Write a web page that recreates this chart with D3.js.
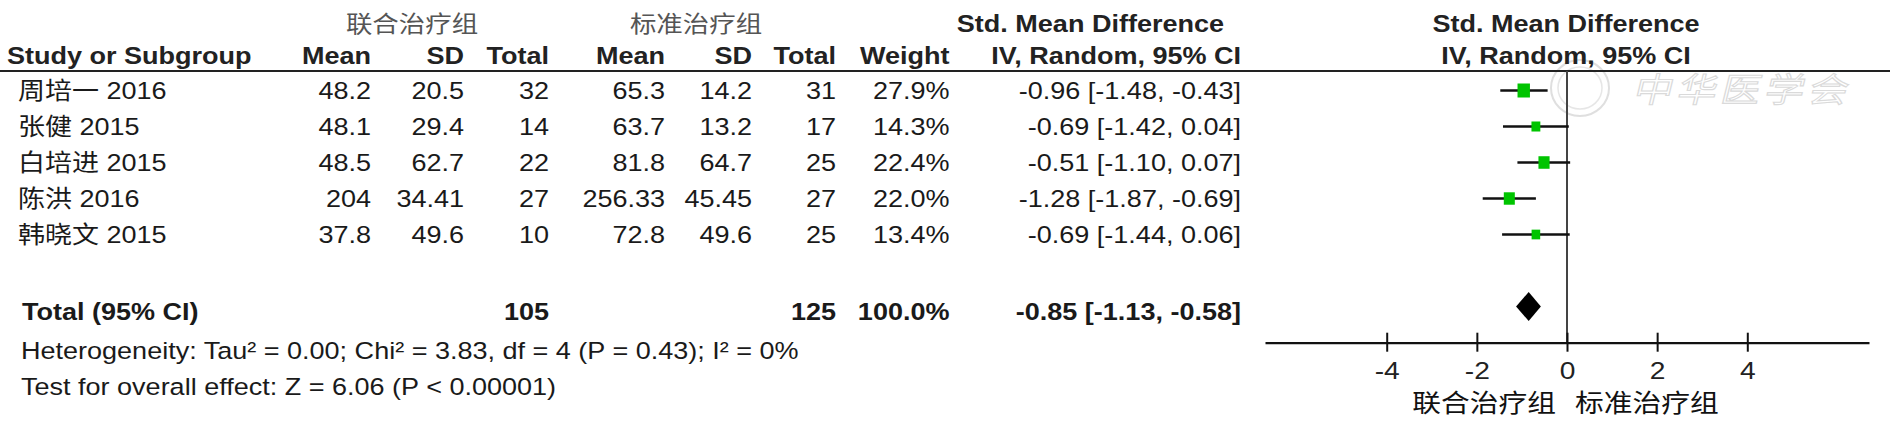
<!DOCTYPE html>
<html>
<head>
<meta charset="utf-8">
<script src="https://cdn.jsdelivr.net/npm/d3@7/dist/d3.min.js"></script>
<style>
  html, body { margin: 0; padding: 0; background: #ffffff; }
  svg { display: block; }
</style>
</head>
<body>
<svg id="chart" width="1890" height="431"></svg>
<script>
// ---------------- data ----------------
const studies   = ["周培一 2016", "张健 2015", "白培进 2015", "陈洪 2016", "韩晓文 2015"];
const expMean   = [48.2, 48.1, 48.5, 204, 37.8];
const expSD     = [20.5, 29.4, 62.7, 34.41, 49.6];
const expN      = [32, 14, 22, 27, 10];
const ctlMean   = [65.3, 63.7, 81.8, 256.33, 72.8];
const ctlSD     = [14.2, 13.2, 64.7, 45.45, 49.6];
const ctlN      = [31, 17, 25, 27, 25];
const weights   = [27.9, 14.3, 22.4, 22.0, 13.4];
const smd       = [-0.96, -0.69, -0.51, -1.28, -0.69];
const ciLow     = [-1.48, -1.42, -1.10, -1.87, -1.44];
const ciHigh    = [-0.43, 0.04, 0.07, -0.69, 0.06];
const totalExpN = 105;
const totalCtlN = 125;
const totalWeight = 100.0;
const pooled    = [-0.85, -1.13, -0.58];   // estimate, lower, upper
const axisTicks = [-4, -2, 0, 2, 4];
const groupExp  = "联合治疗组";
const groupCtl  = "标准治疗组";
const heterogeneityText = "Heterogeneity: Tau² = 0.00; Chi² = 3.83, df = 4 (P = 0.43); I² = 0%";
const overallText = "Test for overall effect: Z = 6.06 (P < 0.00001)";

// ---------------- layout ----------------
const SX = 1.15;            // horizontal stretch of the original picture
const FS = 23.5;
const LAT = "'Liberation Sans', Arial, 'Noto Sans CJK SC', sans-serif";
const CJK = "'Noto Sans CJK SC', 'Liberation Sans', sans-serif";
const col = { m1: 371, sd1: 464, n1: 549, m2: 665, sd2: 752, n2: 836, w: 949.5, ci: 1241 };

const svg = d3.select("#chart");

function T(x, y, s, o = {}) {
  return svg.append("text")
    .attr("transform", `translate(${x},${y}) scale(${SX},1)`)
    .attr("text-anchor", o.anchor || "start")
    .attr("font-weight", o.bold ? "bold" : "normal")
    .attr("font-size", o.size || FS)
    .attr("font-family", o.family || LAT)
    .attr("fill", o.fill || "#1a1a1a")
    .text(s);
}

// scales
const x = d3.scaleLinear().domain([-6.7, 6.7]).range([1265, 1869]);
const rowY = d3.scaleLinear().domain([0, studies.length - 1]).range([90.5, 234.5]);
const totalY = 306.5;
const axisY = 342.7;
const headerLineY = 71;

// faint watermark
const wm = svg.append("g").attr("opacity", 0.9);
wm.append("ellipse").attr("cx", 1580).attr("cy", 88).attr("rx", 29).attr("ry", 28)
  .attr("fill", "none").attr("stroke", "#dcdcdc").attr("stroke-width", 2);
wm.append("ellipse").attr("cx", 1580).attr("cy", 88).attr("rx", 22).attr("ry", 21)
  .attr("fill", "none").attr("stroke", "#e4e4e4").attr("stroke-width", 1.5);
wm.append("text")
  .attr("transform", `translate(1632,102) scale(${SX},1) skewX(-12)`)
  .attr("font-family", CJK).attr("font-size", 34).attr("letter-spacing", 4)
  .attr("fill", "none").attr("stroke", "#d6d6d6").attr("stroke-width", 1.1)
  .text("中华医学会");

// ---------------- header ----------------
T(412, 32, groupExp, { anchor: "middle", family: CJK, size: 23, fill: "#555" });
T(696, 32, groupCtl, { anchor: "middle", family: CJK, size: 23, fill: "#555" });
T(1224, 31.5, "Std. Mean Difference", { anchor: "end", bold: true, fill: "#222" });
T(1566, 31.5, "Std. Mean Difference", { anchor: "middle", bold: true, fill: "#222" });

const hy = 64;
T(7, hy, "Study or Subgroup", { bold: true, fill: "#222" });
T(col.m1, hy, "Mean", { anchor: "end", bold: true, fill: "#222" });
T(col.sd1, hy, "SD", { anchor: "end", bold: true, fill: "#222" });
T(col.n1, hy, "Total", { anchor: "end", bold: true, fill: "#222" });
T(col.m2, hy, "Mean", { anchor: "end", bold: true, fill: "#222" });
T(col.sd2, hy, "SD", { anchor: "end", bold: true, fill: "#222" });
T(col.n2, hy, "Total", { anchor: "end", bold: true, fill: "#222" });
T(col.w, hy, "Weight", { anchor: "end", bold: true, fill: "#222" });
T(col.ci, hy, "IV, Random, 95% CI", { anchor: "end", bold: true, fill: "#222" });
T(1566, hy, "IV, Random, 95% CI", { anchor: "middle", bold: true, fill: "#222" });

svg.append("line").attr("x1", 0).attr("x2", 1890).attr("y1", headerLineY).attr("y2", headerLineY)
  .attr("stroke", "#222").attr("stroke-width", 2);

// ---------------- study rows ----------------
const fmt2 = d3.format(".2f");
const fmtCI = (e, l, h) => `${fmt2(e)} [${fmt2(l)}, ${fmt2(h)}]`.replace(/−/g, "-");
studies.forEach((s, i) => {
  const by = rowY(i) + 8.5;
  T(18, by, s);
  T(col.m1, by, String(expMean[i]), { anchor: "end" });
  T(col.sd1, by, String(expSD[i]), { anchor: "end" });
  T(col.n1, by, String(expN[i]), { anchor: "end" });
  T(col.m2, by, String(ctlMean[i]), { anchor: "end" });
  T(col.sd2, by, String(ctlSD[i]), { anchor: "end" });
  T(col.n2, by, String(ctlN[i]), { anchor: "end" });
  T(col.w, by, weights[i].toFixed(1) + "%", { anchor: "end" });
  T(col.ci, by, fmtCI(smd[i], ciLow[i], ciHigh[i]), { anchor: "end" });
});

// total row
const ty = 320;
T(22, ty, "Total (95% CI)", { bold: true });
T(col.n1, ty, String(totalExpN), { anchor: "end", bold: true });
T(col.n2, ty, String(totalCtlN), { anchor: "end", bold: true });
T(col.w, ty, totalWeight.toFixed(1) + "%", { anchor: "end", bold: true });
T(col.ci, ty, fmtCI(pooled[0], pooled[1], pooled[2]), { anchor: "end", bold: true });
T(21, 358.5, heterogeneityText);
T(21, 395, overallText);

// ---------------- forest plot ----------------
// zero line
svg.append("line").attr("x1", x(0)).attr("x2", x(0)).attr("y1", headerLineY).attr("y2", axisY)
  .attr("stroke", "#444").attr("stroke-width", 2);

// confidence intervals
const plot = svg.append("g");
plot.selectAll("line.ci").data(studies).join("line").attr("class", "ci")
  .attr("x1", (d, i) => x(ciLow[i])).attr("x2", (d, i) => x(ciHigh[i]))
  .attr("y1", (d, i) => rowY(i)).attr("y2", (d, i) => rowY(i))
  .attr("stroke", "#111").attr("stroke-width", 2.6);

// weight boxes
const boxSide = d3.scaleSqrt().domain([0, 100]).range([0, 25]);
plot.selectAll("rect.box").data(studies).join("rect").attr("class", "box")
  .attr("x", (d, i) => x(smd[i]) - boxSide(weights[i]) * 0.47)
  .attr("y", (d, i) => rowY(i) - boxSide(weights[i]) * 0.53)
  .attr("width", (d, i) => boxSide(weights[i]) * 0.94)
  .attr("height", (d, i) => boxSide(weights[i]) * 1.06)
  .attr("fill", "#00c400");

// pooled diamond
plot.append("path")
  .attr("d", `M${x(pooled[1])},${totalY} L${x(pooled[0])},${totalY - 14.5} L${x(pooled[2])},${totalY} L${x(pooled[0])},${totalY + 14.5} Z`)
  .attr("fill", "#000");

// axis
const axis = d3.axisBottom(x).tickValues(axisTicks).tickFormat(d => String(d)).tickSizeOuter(0).tickSizeInner(0);
const ag = svg.append("g").attr("transform", `translate(0,${axisY})`).call(axis);
ag.select(".domain").attr("stroke", "#111").attr("stroke-width", 2.2);
ag.selectAll(".tick line").attr("y1", -10).attr("y2", 9).attr("stroke", "#111").attr("stroke-width", 2);
ag.selectAll(".tick text")
  .attr("y", 36.5).attr("dy", null)
  .attr("transform", `scale(${SX},1)`)
  .attr("font-size", 24.5).attr("font-family", LAT).attr("fill", "#222");

// favours labels
T(x(0) - 11, 412, groupExp, { anchor: "end", family: CJK, size: 25, fill: "#111" });
T(x(0) + 8, 412, groupCtl, { anchor: "start", family: CJK, size: 25, fill: "#111" });
</script>
</body>
</html>
